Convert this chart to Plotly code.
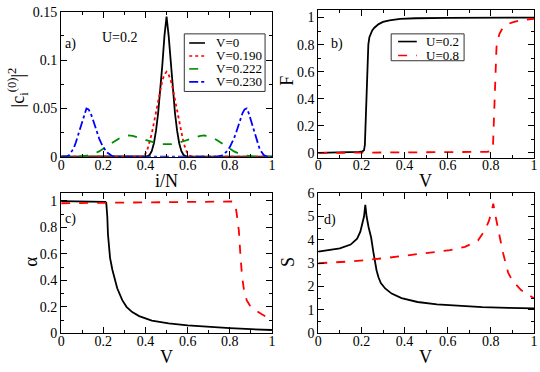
import plotly.graph_objects as go

W, H = 540, 372
SERIF = "Liberation Serif, Times New Roman, serif"

# ---- panel a: |c_i^(0)|^2 vs i/N, U=0.2 ----
a_x_v0 = [0, 0.38, 0.40, 0.41, 0.42, 0.43, 0.44, 0.45, 0.46, 0.47, 0.48, 0.49, 0.50,
          0.51, 0.52, 0.53, 0.54, 0.55, 0.56, 0.57, 0.58, 0.59, 0.60, 0.62, 1.0]
a_y_v0 = [0, 0, 0, 0.0005, 0.002, 0.006, 0.014, 0.027, 0.045, 0.068, 0.095, 0.125, 0.145,
          0.125, 0.095, 0.068, 0.045, 0.027, 0.014, 0.006, 0.002, 0.0005, 0, 0, 0]

a_x_v190 = [0, 0.36, 0.38, 0.39, 0.40, 0.41, 0.42, 0.43, 0.44, 0.45, 0.46, 0.47, 0.48, 0.49, 0.50,
            0.51, 0.52, 0.53, 0.54, 0.55, 0.56, 0.57, 0.58, 0.59, 0.60, 0.61, 0.62, 0.64, 1.0]
a_y_v190 = [0, 0, 0, 0.001, 0.003, 0.008, 0.015, 0.024, 0.035, 0.047, 0.059, 0.070, 0.079, 0.085, 0.088,
            0.085, 0.079, 0.070, 0.059, 0.047, 0.035, 0.024, 0.015, 0.008, 0.003, 0.001, 0, 0, 0]

a_x_v222 = [0, 0.08, 0.10, 0.12, 0.14, 0.16, 0.18, 0.20, 0.22, 0.24, 0.26, 0.28, 0.30, 0.32, 0.34,
            0.36, 0.38, 0.40, 0.42, 0.44, 0.46, 0.48, 0.50, 0.52, 0.54, 0.56, 0.58, 0.60, 0.62,
            0.64, 0.66, 0.68, 0.70, 0.72, 0.74, 0.76, 0.78, 0.80, 0.82, 0.84, 0.86, 0.88, 0.90,
            0.92, 1.0]
a_y_v222 = [0, 0, 0.0005, 0.001, 0.002, 0.0035, 0.0055, 0.008, 0.011, 0.014, 0.017, 0.0195, 0.021,
            0.022, 0.0215, 0.0205, 0.019, 0.0175, 0.016, 0.0145, 0.0135, 0.013, 0.0128, 0.013, 0.0135,
            0.0145, 0.016, 0.0175, 0.019, 0.0205, 0.0215, 0.022, 0.021, 0.0195, 0.017, 0.014, 0.011,
            0.008, 0.0055, 0.0035, 0.002, 0.001, 0.0005, 0, 0]

a_x_v230 = [0, 0.02, 0.03, 0.04, 0.05, 0.06, 0.07, 0.08, 0.09, 0.10, 0.11, 0.12, 0.13, 0.14, 0.15,
            0.16, 0.17, 0.18, 0.19, 0.20, 0.21, 0.22, 0.23, 0.24, 0.25, 0.26, 0.74, 0.75, 0.76,
            0.77, 0.78, 0.79, 0.80, 0.81, 0.82, 0.83, 0.84, 0.85, 0.86, 0.87, 0.88, 0.89, 0.90,
            0.91, 0.92, 0.93, 0.94, 0.95, 0.96, 0.97, 0.98, 1.0]
a_y_v230 = [0, 0, 0.0005, 0.002, 0.005, 0.009, 0.015, 0.022, 0.030, 0.038, 0.045, 0.050, 0.049, 0.045,
            0.039, 0.032, 0.025, 0.019, 0.014, 0.010, 0.0065, 0.004, 0.002, 0.001, 0.0003, 0, 0,
            0.0003, 0.001, 0.002, 0.004, 0.0065, 0.010, 0.014, 0.019, 0.025, 0.032, 0.039, 0.045,
            0.049, 0.050, 0.045, 0.038, 0.030, 0.022, 0.015, 0.009, 0.005, 0.002, 0.0005, 0, 0]

# ---- panel b: F vs V ----
b_v_u02 = [0, 0.1, 0.15, 0.19, 0.205, 0.212, 0.216, 0.219, 0.222, 0.225, 0.228, 0.232, 0.237,
           0.243, 0.25, 0.26, 0.27, 0.28, 0.3, 0.33, 0.38, 0.45, 0.6, 0.8, 1.0]
b_f_u02 = [0.0, 0.002, 0.004, 0.008, 0.012, 0.02, 0.06, 0.2, 0.4, 0.58, 0.7, 0.8, 0.855,
           0.885, 0.905, 0.925, 0.94, 0.952, 0.968, 0.98, 0.99, 0.995, 0.998, 0.999, 1.0]
b_v_u08 = [0, 0.2, 0.4, 0.6, 0.7, 0.78, 0.8, 0.806, 0.81, 0.813, 0.816, 0.819, 0.822, 0.826,
           0.832, 0.84, 0.85, 0.86, 0.875, 0.9, 0.93, 0.96, 1.0]
b_f_u08 = [0, 0.001, 0.002, 0.003, 0.005, 0.008, 0.012, 0.02, 0.06, 0.2, 0.4, 0.58, 0.7, 0.78,
           0.84, 0.88, 0.91, 0.93, 0.95, 0.965, 0.977, 0.985, 0.99]

# ---- panel c: alpha vs V ----
c_v_u02 = [0, 0.1, 0.2, 0.21, 0.214, 0.216, 0.219, 0.222, 0.226, 0.232, 0.243, 0.255, 0.266,
           0.29, 0.31, 0.337, 0.37, 0.43, 0.51, 0.6, 0.7, 0.8, 0.9, 1.0]
c_a_u02 = [0.998, 0.997, 0.996, 0.993, 0.985, 0.96, 0.88, 0.75, 0.65, 0.57, 0.48, 0.40, 0.34,
           0.25, 0.20, 0.16, 0.13, 0.095, 0.075, 0.06, 0.048, 0.039, 0.031, 0.025]
c_v_u08 = [0, 0.2, 0.4, 0.6, 0.75, 0.8, 0.812, 0.82, 0.826, 0.833, 0.843, 0.85, 0.858, 0.868,
           0.88, 0.895, 0.91, 0.93, 0.95, 0.97, 1.0]
c_a_u08 = [0.982, 0.985, 0.988, 0.99, 0.993, 0.995, 0.995, 0.988, 0.97, 0.9, 0.775, 0.6, 0.43,
           0.32, 0.25, 0.21, 0.19, 0.165, 0.145, 0.125, 0.10]

# ---- panel d: S vs V ----
d_v_u02 = [0, 0.05, 0.1, 0.15, 0.18, 0.195, 0.205, 0.212, 0.218, 0.224, 0.233, 0.245, 0.255,
           0.263, 0.27, 0.279, 0.29, 0.31, 0.34, 0.386, 0.46, 0.55, 0.65, 0.76, 0.88, 1.0]
d_s_u02 = [3.5, 3.56, 3.64, 3.8, 4.05, 4.35, 4.7, 5.0, 5.5, 5.0, 4.55, 4.1, 3.5,
           3.0, 2.7, 2.4, 2.15, 1.92, 1.7, 1.51, 1.34, 1.24, 1.17, 1.12, 1.09, 1.07]
d_v_u08 = [0, 0.157, 0.31, 0.46, 0.61, 0.68, 0.74, 0.77, 0.79, 0.802, 0.811, 0.822, 0.834,
           0.845, 0.857, 0.87, 0.88, 0.9, 0.918, 0.94, 0.963, 1.0]
d_s_u08 = [3.0, 3.08, 3.22, 3.38, 3.56, 3.7, 3.97, 4.38, 4.79, 5.15, 5.55, 5.0, 4.52,
           3.95, 3.42, 2.9, 2.6, 2.25, 2.05, 1.85, 1.71, 1.5]

legend_a_names = ["V=0", "V=0.190", "V=0.222", "V=0.230"]
legend_b_names = ["U=0.2", "U=0.8"]

BLACK = dict(color="black", width=1.8)
RED_DOT = dict(color="red", width=1.8, dash="dot")
GREEN_DASH = dict(color="#008c00", width=1.8, dash="dash")
BLUE_DASHDOT = dict(color="blue", width=1.8, dash="dashdot")
RED_DASH = dict(color="red", width=1.8, dash="dash")


def px_x(x):
    # reference pixel -> paper coordinate
    return x / W


def px_y(y):
    return 1 - y / H


fig = go.Figure()

# panel a
for xs, ys, name, line in [(a_x_v0, a_y_v0, legend_a_names[0], BLACK),
                           (a_x_v190, a_y_v190, legend_a_names[1], RED_DOT),
                           (a_x_v222, a_y_v222, legend_a_names[2], GREEN_DASH),
                           (a_x_v230, a_y_v230, legend_a_names[3], BLUE_DASHDOT)]:
    fig.add_trace(go.Scatter(x=xs, y=ys, mode="lines", name=name, line=line,
                             showlegend=False, xaxis="x", yaxis="y"))

# panels b, c, d
for xs, ys, name, line, xa_, ya_ in [
        (b_v_u02, b_f_u02, legend_b_names[0], BLACK, "x2", "y2"),
        (b_v_u08, b_f_u08, legend_b_names[1], RED_DASH, "x2", "y2"),
        (c_v_u02, c_a_u02, legend_b_names[0], BLACK, "x3", "y3"),
        (c_v_u08, c_a_u08, legend_b_names[1], RED_DASH, "x3", "y3"),
        (d_v_u02, d_s_u02, legend_b_names[0], BLACK, "x4", "y4"),
        (d_v_u08, d_s_u08, legend_b_names[1], RED_DASH, "x4", "y4")]:
    fig.add_trace(go.Scatter(x=xs, y=ys, mode="lines", name=name, line=line,
                             showlegend=False, xaxis=xa_, yaxis=ya_))


def ax(domain, rng, dtick, minor, anchor, standoff=0):
    return dict(domain=domain, range=rng, dtick=dtick, tick0=0, anchor=anchor,
                ticks="inside", ticklen=6, tickwidth=1, tickcolor="black",
                minor=dict(dtick=minor, tick0=0, ticks="inside", ticklen=3,
                           tickcolor="black", showgrid=False),
                showline=True, linecolor="black", linewidth=1, mirror="allticks",
                showgrid=False, zeroline=False, ticklabelstandoff=standoff,
                tickfont=dict(family=SERIF, size=14, color="black"))


xa = [px_x(58), px_x(272)]
xb = [px_x(319), px_x(538)]
ya = [px_y(156), px_y(5)]
yb = [px_y(157), px_y(3)]
ycd = [px_y(340), px_y(194)]

fig.update_layout(
    width=W, height=H, margin=dict(l=0, r=0, t=0, b=0),
    paper_bgcolor="white", plot_bgcolor="white", showlegend=False,
    xaxis=ax(xa, [0, 1], 0.2, 0.1, "y", -5),
    yaxis=ax(ya, [0, 0.15], 0.05, 0.025, "x"),
    xaxis2=ax(xb, [0, 1], 0.2, 0.1, "y2", -5),
    yaxis2=ax(yb, [-0.035, 1.057], 0.2, 0.1, "x2"),
    xaxis3=ax(xa, [0, 1], 0.2, 0.1, "y3", -5),
    yaxis3=ax(ycd, [0, 1.058], 0.2, 0.1, "x3"),
    xaxis4=ax(xb, [0, 1], 0.2, 0.1, "y4", -5),
    yaxis4=ax(ycd, [0, 6], 1, 0.5, "x4"),
)


# legends drawn as boxed keys, in the grace style of the original
def add_legend(box, rows, names, lines, line_x, text_x):
    x0, y0, x1, y1 = box
    fig.add_shape(type="rect", xref="paper", yref="paper",
                  x0=px_x(x0), x1=px_x(x1), y0=px_y(y1), y1=px_y(y0),
                  line=dict(color="#333333", width=1), fillcolor="white", layer="above")
    for ry, name, line in zip(rows, names, lines):
        fig.add_shape(type="line", xref="paper", yref="paper",
                      x0=px_x(line_x[0]), x1=px_x(line_x[1]), y0=px_y(ry), y1=px_y(ry),
                      line=dict(line, width=1.6), layer="above")
        fig.add_annotation(text=name, x=px_x(text_x), y=px_y(ry), xref="paper", yref="paper",
                           xanchor="left", yanchor="middle", showarrow=False,
                           font=dict(family=SERIF, size=13, color="black"))


add_legend((183, 28, 265, 88), [37.5, 51, 64.5, 78], legend_a_names,
           [BLACK, RED_DOT, GREEN_DASH, BLUE_DASHDOT], (188, 204), 213)
add_legend((393, 28, 467, 56), [36, 50.5], legend_b_names,
           [BLACK, RED_DASH], (400, 419), 426)

labels = [
    # text, x px, y px (centre), size, angle
    ("a)", 68, 39, 14, 0),
    ("U=0.2", 118, 32, 14, 0),
    ("b)", 338, 39, 14, 0),
    ("c)", 67, 221, 14, 0),
    ("d)", 331, 222, 14, 0),
    ("i/N", 165, 181, 18, 0),
    ("V", 428, 181, 18, 0),
    ("V", 165, 365, 18, 0),
    ("V", 428, 365, 18, 0),
    ("|c<sub>i</sub><sup>(0)</sup>|<sup>2</sup>", 14, 84, 18, -90),
    ("F", 287, 77, 18, -90),
    ("α", 27, 266, 19, -90),
    ("S", 289, 266, 18, -90),
]
for text, x, y, size, angle in labels:
    fig.add_annotation(text=text, x=px_x(x), y=px_y(y), xref="paper", yref="paper",
                       xanchor="center", yanchor="middle",
                       showarrow=False, textangle=angle,
                       font=dict(family=SERIF, size=size, color="black"))

# the page's default body margin would push the 540x372 figure off the window
fig.write_html("out.html", config={"displayModeBar": False},
               post_script="document.body.style.margin = '0';")
